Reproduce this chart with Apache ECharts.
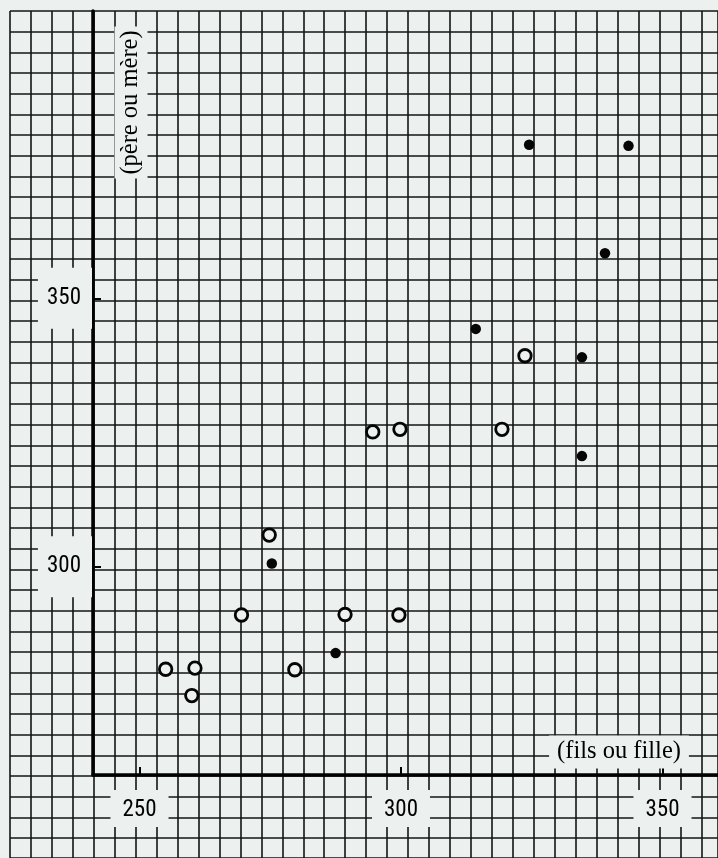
<!DOCTYPE html>
<html>
<head>
<meta charset="utf-8">
<script src="https://cdn.jsdelivr.net/npm/echarts@6/dist/echarts.min.js"></script>
<style>
html, body { margin: 0; padding: 0; background: #ecf1f0; }
#chart { width: 718px; height: 858px; }
</style>
</head>
<body>
<div id="chart"></div>
<script>
// ---- data ----
const xTickValues = [250, 300, 350];
const yTickValues = [300, 350];
const xAxisTitle = '(fils ou fille)';
const yAxisTitle = '(père ou mère)';

// open circles
const openX = [255.0, 260.6, 260.0, 269.5, 274.8, 279.7, 289.3, 299.6, 294.6, 299.8, 319.3, 323.7];
const openY = [280.9, 281.1, 276.0, 291.0, 305.9, 280.8, 291.1, 291.0, 325.1, 325.6, 325.6, 339.3];
// filled dots
const filledX = [324.5, 343.5, 339.0, 314.3, 334.6, 334.6, 275.3, 287.5];
const filledY = [378.6, 378.4, 358.4, 344.3, 339.0, 320.6, 300.6, 283.9];

// ---- styling ----
const PAPER = '#ecf1f0';
const INK = '#141414';
const W = 718, H = 858;
const SQ_X = 20.95, SQ_Y = 20.68;           // graph-paper square size (px)
const PAPER_LEFT = 10, PAPER_TOP = 11;
const AX_LEFT = 93, AX_BOTTOM_PX = 775, AX_TOP = 11;
// data scale (px per unit) and anchor
const PX_PER_X = 5.23, X300_PX = 401;
const PX_PER_Y = 5.368, Y300_PX = 566.7;

const xMin = 300 + (AX_LEFT - X300_PX) / PX_PER_X;
const xMax = 300 + (W - X300_PX) / PX_PER_X;
const yMin = 300 - (AX_BOTTOM_PX - Y300_PX) / PX_PER_Y;
const yMax = 300 + (Y300_PX - AX_TOP) / PX_PER_Y;

const zip = (a, b) => a.map((v, i) => [v, b[i]]);

const labelFont = "'Liberation Sans Narrow', 'Roboto Condensed', 'Liberation Sans', sans-serif";
const titleFont = "24.5px 'Liberation Serif', serif";

const chart = echarts.init(document.getElementById('chart'), null, { renderer: 'canvas' });
chart.setOption({
  animation: false,
  backgroundColor: PAPER,
  grid: [
    { left: PAPER_LEFT, top: PAPER_TOP, right: 0, bottom: 0 },
    { left: AX_LEFT, top: AX_TOP, right: 0, bottom: H - AX_BOTTOM_PX }
  ],
  xAxis: [
    {
      gridIndex: 0, type: 'value', min: 0, max: (W - PAPER_LEFT) / SQ_X, interval: 1, z: 0,
      axisLine: { show: false }, axisTick: { show: false }, axisLabel: { show: false },
      splitLine: { show: true, showMinLine: true, showMaxLine: true, lineStyle: { color: INK, width: 1.6 } }
    },
    {
      gridIndex: 1, type: 'value', min: xMin, max: xMax, z: 5,
      axisLine: { show: true, onZero: false, lineStyle: { color: '#000', width: 3.5 } },
      axisTick: { show: true, inside: true, length: 8, customValues: xTickValues, lineStyle: { color: '#000', width: 2 } },
      axisLabel: {
        show: true, customValues: xTickValues, margin: 15, fontSize: 23, fontFamily: labelFont, color: '#000',
        backgroundColor: PAPER, padding: [9, 12, 5, 12]
      },
      splitLine: { show: false }
    }
  ],
  yAxis: [
    {
      gridIndex: 0, type: 'value', inverse: true, min: 0, max: (H - PAPER_TOP) / SQ_Y, interval: 1, z: 0,
      axisLine: { show: false }, axisTick: { show: false }, axisLabel: { show: false },
      splitLine: { show: true, showMinLine: true, showMaxLine: true, lineStyle: { color: INK, width: 1.6 } }
    },
    {
      gridIndex: 1, type: 'value', min: yMin, max: yMax, z: 5,
      axisLine: { show: true, onZero: false, lineStyle: { color: '#000', width: 3.5 } },
      axisTick: { show: true, inside: true, length: 8, customValues: yTickValues, lineStyle: { color: '#000', width: 2 } },
      axisLabel: {
        show: true, customValues: yTickValues, margin: 1, fontSize: 23, fontFamily: labelFont, color: '#000',
        backgroundColor: PAPER, padding: [12, 11, 26, 9]
      },
      splitLine: { show: false }
    }
  ],
  series: [
    {
      name: 'open', type: 'scatter', xAxisIndex: 1, yAxisIndex: 1, z: 6, silent: true,
      data: zip(openX, openY), symbol: 'circle', symbolSize: 12.5,
      itemStyle: { color: PAPER, borderColor: '#050505', borderWidth: 2.8, opacity: 1 }
    },
    {
      name: 'filled', type: 'scatter', xAxisIndex: 1, yAxisIndex: 1, z: 6, silent: true,
      data: zip(filledX, filledY), symbol: 'circle', symbolSize: 10.5,
      itemStyle: { color: '#050505', opacity: 1 }
    }
  ],
  graphic: [
    {
      type: 'text', x: 131, y: 102.5, rotation: Math.PI / 2, z: 10,
      style: { text: yAxisTitle, font: titleFont, fill: '#000', align: 'center', verticalAlign: 'middle',
               backgroundColor: PAPER, padding: [4, 4, 4, 4] }
    },
    {
      type: 'text', x: 619, y: 752, z: 10,
      style: { text: xAxisTitle, font: titleFont, fill: '#000', align: 'center', verticalAlign: 'middle',
               backgroundColor: PAPER, padding: [4, 8, 4, 8] }
    }
  ]
});
</script>
</body>
</html>
